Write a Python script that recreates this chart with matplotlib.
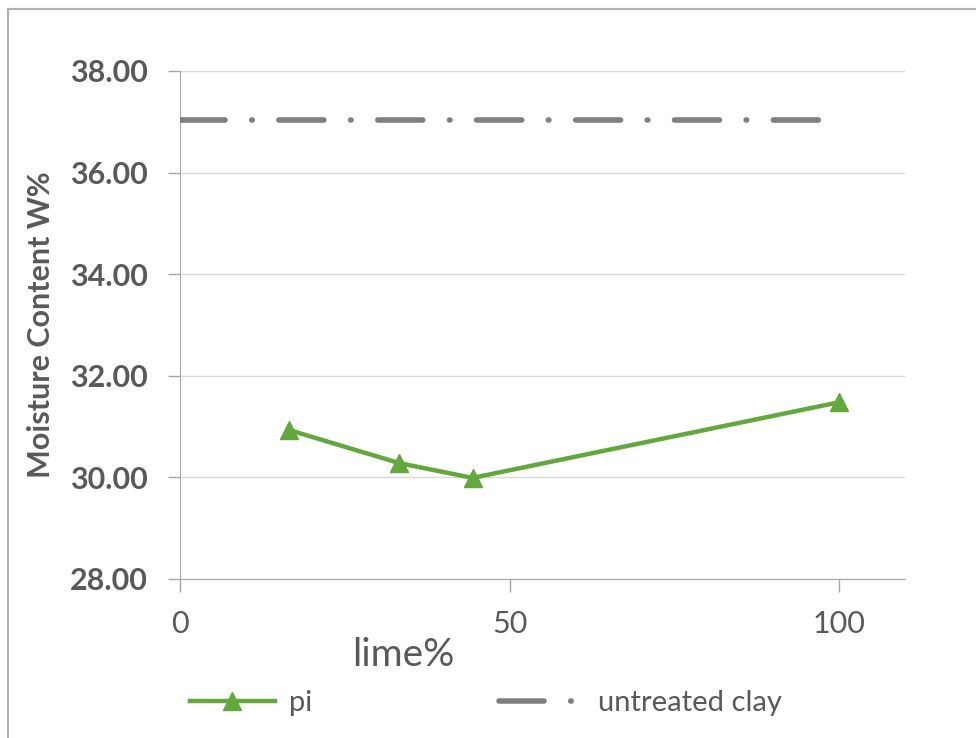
import matplotlib.pyplot as plt
from matplotlib.lines import Line2D

# values
lime = [16.6, 33.3, 44.4, 100]
pi = [30.93, 30.28, 29.99, 31.48]
untreated_x = [0, 97.5]
untreated_y = [37.04, 37.04]

y_ticks = [28, 30, 32, 34, 36, 38]
x_ticks = [0, 50, 100]

plt.rcParams['font.family'] = ['Lato', 'DejaVu Sans']

fig = plt.figure(figsize=(9.76, 7.38), dpi=100)
ax = fig.add_axes([180 / 976, 1 - 579 / 738, 725 / 976, 508 / 738])

green = '#62a83c'
gray = '#7f7f7f'
text_gray = '#595959'

ax.plot(lime, pi, color=green, lw=3.2, marker='^', markersize=13,
        label='pi', zorder=3)
ax.plot(untreated_x, untreated_y, color=gray, lw=4,
        dashes=(8.1, 4.8, 0.1, 4.8), dash_capstyle='round',
        label='untreated clay', zorder=3)

ax.set_xlim(0, 110)
ax.set_ylim(28, 38)
ax.set_yticks(y_ticks)
ax.set_yticklabels([f'{v:.2f}' for v in y_ticks], fontweight='bold')
ax.set_xticks(x_ticks)
ax.tick_params(axis='y', colors='#a6a6a6', labelcolor=text_gray,
               labelsize=22, length=9, width=1, pad=14)
ax.tick_params(axis='x', colors='#a6a6a6', labelcolor=text_gray,
               labelsize=22, length=9, width=1, pad=13)

ax.grid(axis='y', color='#d9d9d9', lw=1)
ax.set_axisbelow(True)
for s in ['top', 'right']:
    ax.spines[s].set_visible(False)
ax.spines['left'].set_color('#a6a6a6')
ax.spines['bottom'].set_color('#a6a6a6')

ax.set_ylabel('Moisture Content W%', fontsize=22, fontweight='bold',
              color=text_gray, labelpad=11)
ax.set_xlabel('lime%', fontsize=28, color=text_gray)
ax.xaxis.label.set_va('center')
ax.xaxis.set_label_coords((403 - 180) / 725, (579 - 655) / 508)

leg = fig.legend(loc='center left', bbox_to_anchor=(190 / 976, 1 - 703 / 738),
                 ncol=2, frameon=False, fontsize=21, handlelength=2.9,
                 columnspacing=6.4, handletextpad=0.5,
                 borderaxespad=0, borderpad=0)
for t in leg.get_texts():
    t.set_color(text_gray)

# partial frame round the chart (top and left only)
fig.add_artist(Line2D([8 / 976, 1], [1 - 9 / 738, 1 - 9 / 738],
                      transform=fig.transFigure, color='#b0b0b0', lw=1.5))
fig.add_artist(Line2D([8 / 976, 8 / 976], [0, 1 - 9 / 738],
                      transform=fig.transFigure, color='#b0b0b0', lw=1.5))

fig.savefig('out.png', dpi=100)
